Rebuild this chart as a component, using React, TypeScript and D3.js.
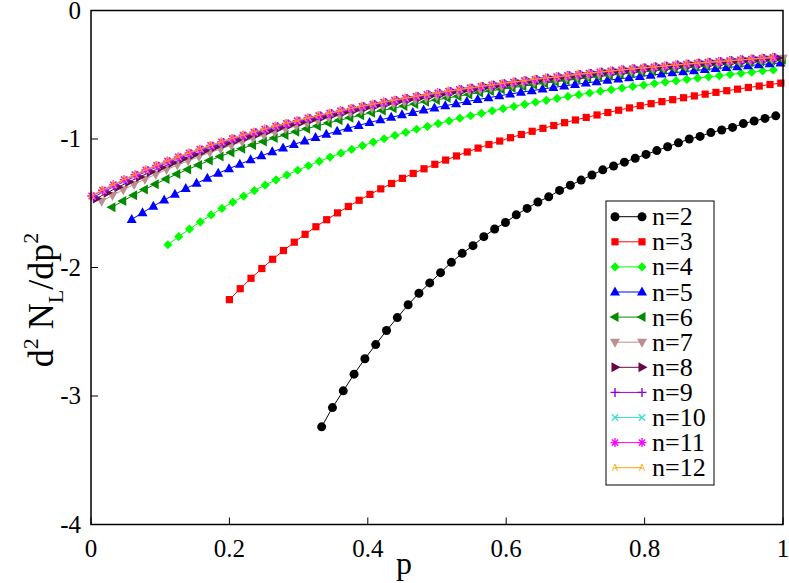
import React from "react";
import * as d3 from "d3";

// d2 N_L / dp2 against p, one curve per n
const labels = ["n=2", "n=3", "n=4", "n=5", "n=6", "n=7", "n=8", "n=9", "n=10", "n=11", "n=12"];
const colors = ["#000000", "#ff0000", "#00ff00", "#0000ff", "#008b00", "#bc8f8f", "#670748", "#9400d3", "#40e0d0", "#ff00ff", "#ffa500"];
const symbols = ["circle", "square", "diamond", "triUp", "triLeft", "triDown", "triRight", "plus", "cross", "star", "char"];

// first p of each curve, and the p spacing between markers
const pStart = [0.3333, 0.2, 0.1111, 0.0588, 0.0303, 0.0154, 0.0078, 0.0039, 0.002, 0.001, 0.0005];
const pStep = 0.015625;

const n2 = [-3.24,-3.09,-2.96,-2.83,-2.71,-2.60,-2.49,-2.39,-2.29,-2.20,-2.12,-2.04,-1.96,-1.89,-1.83,-1.76,-1.70,-1.65,-1.59,-1.54,-1.49,-1.45,-1.40,-1.36,-1.32,-1.28,-1.24,-1.21,-1.18,-1.15,-1.12,-1.09,-1.06,-1.03,-1.00,-0.98,-0.95,-0.93,-0.91,-0.88,-0.86,-0.84,-0.82];
const n3 = [-2.250,-2.165,-2.084,-2.008,-1.936,-1.868,-1.803,-1.742,-1.683,-1.628,-1.575,-1.525,-1.477,-1.431,-1.388,-1.346,-1.306,-1.268,-1.232,-1.197,-1.164,-1.132,-1.101,-1.071,-1.043,-1.016,-0.990,-0.965,-0.940,-0.917,-0.895,-0.873,-0.852,-0.832,-0.813,-0.794,-0.776,-0.758,-0.741,-0.725,-0.709,-0.694,-0.679,-0.665,-0.651,-0.637,-0.624,-0.612,-0.599,-0.588,-0.576,-0.565];
const n4 = [-1.823,-1.760,-1.701,-1.645,-1.591,-1.540,-1.492,-1.445,-1.401,-1.359,-1.318,-1.280,-1.243,-1.208,-1.174,-1.141,-1.110,-1.080,-1.052,-1.024,-0.998,-0.972,-0.948,-0.924,-0.902,-0.880,-0.859,-0.838,-0.819,-0.800,-0.781,-0.764,-0.747,-0.730,-0.714,-0.699,-0.684,-0.669,-0.655,-0.642,-0.628,-0.616,-0.603,-0.591,-0.580,-0.568,-0.557,-0.547,-0.536,-0.526,-0.516,-0.507,-0.497,-0.489,-0.480,-0.471,-0.463];
const n5 = [-1.626,-1.573,-1.523,-1.475,-1.430,-1.386,-1.345,-1.305,-1.267,-1.231,-1.196,-1.162,-1.131,-1.100,-1.070,-1.042,-1.015,-0.989,-0.964,-0.940,-0.916,-0.894,-0.872,-0.851,-0.831,-0.812,-0.793,-0.775,-0.758,-0.741,-0.725,-0.709,-0.693,-0.679,-0.664,-0.650,-0.637,-0.624,-0.611,-0.599,-0.587,-0.576,-0.564,-0.554,-0.543,-0.533,-0.523,-0.513,-0.504,-0.494,-0.485,-0.477,-0.468,-0.460,-0.452,-0.444,-0.437,-0.429,-0.422,-0.415,-0.408];
const n6 = [-1.532,-1.483,-1.437,-1.393,-1.352,-1.312,-1.273,-1.237,-1.202,-1.168,-1.136,-1.105,-1.075,-1.047,-1.020,-0.993,-0.968,-0.944,-0.920,-0.898,-0.876,-0.855,-0.835,-0.815,-0.796,-0.778,-0.761,-0.744,-0.727,-0.711,-0.696,-0.681,-0.667,-0.653,-0.639,-0.626,-0.613,-0.601,-0.589,-0.578,-0.566,-0.555,-0.545,-0.534,-0.524,-0.515,-0.505,-0.496,-0.487,-0.478,-0.470,-0.461,-0.453,-0.446,-0.438,-0.431,-0.423,-0.416,-0.409,-0.403,-0.396,-0.390,-0.383];
const n7 = [-1.485,-1.439,-1.395,-1.354,-1.313,-1.275,-1.238,-1.203,-1.170,-1.137,-1.106,-1.077,-1.048,-1.021,-0.994,-0.969,-0.945,-0.921,-0.899,-0.877,-0.856,-0.836,-0.816,-0.797,-0.779,-0.761,-0.744,-0.728,-0.712,-0.697,-0.682,-0.667,-0.653,-0.640,-0.627,-0.614,-0.602,-0.590,-0.578,-0.567,-0.556,-0.545,-0.535,-0.525,-0.515,-0.506,-0.496,-0.487,-0.479,-0.470,-0.462,-0.454,-0.446,-0.438,-0.431,-0.424,-0.416,-0.410,-0.403,-0.396,-0.390,-0.384,-0.377,-0.371];
const n8 = [-1.463,-1.418,-1.375,-1.334,-1.295,-1.257,-1.221,-1.187,-1.154,-1.122,-1.092,-1.063,-1.035,-1.008,-0.982,-0.957,-0.933,-0.910,-0.888,-0.867,-0.846,-0.826,-0.807,-0.788,-0.770,-0.753,-0.736,-0.720,-0.705,-0.689,-0.675,-0.660,-0.647,-0.633,-0.620,-0.608,-0.596,-0.584,-0.573,-0.561,-0.551,-0.540,-0.530,-0.520,-0.510,-0.501,-0.492,-0.483,-0.474,-0.466,-0.458,-0.450,-0.442,-0.435,-0.427,-0.420,-0.413,-0.406,-0.400,-0.393,-0.387,-0.381,-0.375,-0.369];
const n9 = [-1.452,-1.407,-1.365,-1.324,-1.285,-1.248,-1.213,-1.178,-1.146,-1.115,-1.085,-1.056,-1.028,-1.001,-0.976,-0.951,-0.928,-0.905,-0.883,-0.861,-0.841,-0.821,-0.802,-0.784,-0.766,-0.749,-0.732,-0.716,-0.701,-0.686,-0.671,-0.657,-0.643,-0.630,-0.617,-0.605,-0.593,-0.581,-0.570,-0.559,-0.548,-0.538,-0.527,-0.518,-0.508,-0.499,-0.490,-0.481,-0.472,-0.464,-0.456,-0.448,-0.440,-0.433,-0.425,-0.418,-0.411,-0.405,-0.398,-0.392,-0.385,-0.379,-0.373,-0.367];
const n10 = [-1.446,-1.402,-1.359,-1.319,-1.280,-1.244,-1.208,-1.174,-1.142,-1.111,-1.081,-1.052,-1.025,-0.998,-0.973,-0.948,-0.925,-0.902,-0.880,-0.859,-0.838,-0.819,-0.800,-0.782,-0.764,-0.747,-0.730,-0.714,-0.699,-0.684,-0.669,-0.655,-0.642,-0.629,-0.616,-0.603,-0.591,-0.580,-0.568,-0.557,-0.547,-0.536,-0.526,-0.516,-0.507,-0.498,-0.489,-0.480,-0.471,-0.463,-0.455,-0.447,-0.439,-0.432,-0.425,-0.417,-0.411,-0.404,-0.397,-0.391,-0.384,-0.378,-0.372,-0.366];
const n11 = [-1.443,-1.399,-1.357,-1.316,-1.278,-1.241,-1.206,-1.172,-1.140,-1.109,-1.079,-1.050,-1.023,-0.997,-0.971,-0.947,-0.923,-0.900,-0.879,-0.858,-0.837,-0.818,-0.799,-0.781,-0.763,-0.746,-0.729,-0.713,-0.698,-0.683,-0.668,-0.654,-0.641,-0.628,-0.615,-0.603,-0.591,-0.579,-0.568,-0.557,-0.546,-0.536,-0.526,-0.516,-0.506,-0.497,-0.488,-0.479,-0.471,-0.462,-0.454,-0.447,-0.439,-0.431,-0.424,-0.417,-0.410,-0.403,-0.397,-0.390,-0.384,-0.378,-0.372,-0.366];
const n12 = [-1.441,-1.397,-1.355,-1.315,-1.277,-1.240,-1.205,-1.171,-1.139,-1.108,-1.078,-1.050,-1.022,-0.996,-0.970,-0.946,-0.922,-0.900,-0.878,-0.857,-0.837,-0.817,-0.798,-0.780,-0.762,-0.745,-0.729,-0.713,-0.697,-0.683,-0.668,-0.654,-0.640,-0.627,-0.615,-0.602,-0.590,-0.579,-0.567,-0.556,-0.546,-0.535,-0.525,-0.516,-0.506,-0.497,-0.488,-0.479,-0.471,-0.462,-0.454,-0.446,-0.439,-0.431,-0.424,-0.417,-0.410,-0.403,-0.397,-0.390,-0.384,-0.378,-0.372,-0.366];

const values = [n2, n3, n4, n5, n6, n7, n8, n9, n10, n11, n12];

const xTicks = [0, 0.2, 0.4, 0.6, 0.8, 1];
const xTickLabels = ["0", "0.2", "0.4", "0.6", "0.8", "1"];
const yTicks = [0, -1, -2, -3, -4];
const yTickLabels = ["0", "-1", "-2", "-3", "-4"];

const FONT = '"Liberation Serif", "Times New Roman", Times, "DejaVu Serif", serif';

const tri = "M0,-5.5L5,3.5L-5,3.5Z";

function Marker({ kind, color, cx, cy }: { kind: string; color: string; cx: number; cy: number }) {
  const t = `translate(${cx},${cy})`;
  switch (kind) {
    case "circle":
      return <circle cx={cx} cy={cy} r={4.5} fill={color} />;
    case "square":
      return <rect x={cx - 3.6} y={cy - 3.6} width={7.2} height={7.2} fill={color} />;
    case "diamond":
      return <path transform={t} d="M0,-4.6L4.6,0L0,4.6L-4.6,0Z" fill={color} />;
    case "triUp":
      return <path transform={t} d={tri} fill={color} />;
    case "triLeft":
      return <path transform={`${t} rotate(-90)`} d={tri} fill={color} />;
    case "triDown":
      return <path transform={`${t} rotate(180)`} d={tri} fill={color} />;
    case "triRight":
      return <path transform={`${t} rotate(90)`} d={tri} fill={color} />;
    case "plus":
      return <path transform={t} d="M-4.5,0H4.5M0,-4.5V4.5" stroke={color} strokeWidth={1.4} fill="none" />;
    case "cross":
      return <path transform={t} d="M-3.2,-3.2L3.2,3.2M-3.2,3.2L3.2,-3.2" stroke={color} strokeWidth={1.4} fill="none" />;
    case "star":
      return (
        <path
          transform={t}
          d="M-4.5,0H4.5M0,-4.5V4.5M-3.2,-3.2L3.2,3.2M-3.2,3.2L3.2,-3.2"
          stroke={color}
          strokeWidth={1.4}
          fill="none"
        />
      );
    default:
      return (
        <text x={cx} y={cy + 3} fontSize={9} fill={color} textAnchor="middle" style={{ fontFamily: "DejaVu Sans, sans-serif" }}>
          A
        </text>
      );
  }
}

export default function App() {
  const width = 789;
  const height = 583;

  const x = d3.scaleLinear().domain([0, 1]).range([91, 783]);
  const y = d3.scaleLinear().domain([-4, 0]).range([524.5, 10.5]);

  const series = values.map((vals, s) =>
    vals.map((v, i) => [pStart[s] + i * pStep, v] as [number, number])
  );

  const line = d3
    .line<[number, number]>()
    .x((d) => x(d[0]))
    .y((d) => y(d[1]));

  const legendX = 606;
  const legendY = 201;
  const rowY = (i: number) => 216.7 + i * 25.1;
  const txt = { fontFamily: FONT };

  return (
    <svg
      width={width}
      height={height}
      style={{ position: "absolute", left: 0, top: 0, background: "#fff", fontFamily: FONT }}
    >
      <rect x={0} y={0} width={width} height={height} fill="#fff" />

      {/* curves */}
      {series.map((pts, s) => (
        <g key={labels[s]}>
          <path d={line(pts) ?? ""} fill="none" stroke={colors[s]} strokeWidth={1} />
          {pts.map((d, i) => (
            <Marker key={i} kind={symbols[s]} color={colors[s]} cx={x(d[0])} cy={y(d[1])} />
          ))}
        </g>
      ))}

      {/* frame */}
      <rect x={x(0)} y={y(0)} width={x(1) - x(0)} height={y(-4) - y(0)} fill="none" stroke="#000" strokeWidth={1.5} />

      {/* x axis ticks */}
      {xTicks.map((t, i) => (
        <g key={`xt${i}`}>
          <line x1={x(t)} x2={x(t)} y1={y(-4)} y2={y(-4) - 7} stroke="#000" strokeWidth={1} />
          <text x={x(t)} y={557} fontSize={25} textAnchor="middle" style={txt}>
            {xTickLabels[i]}
          </text>
        </g>
      ))}

      {/* y axis ticks */}
      {yTicks.map((t, i) => (
        <g key={`yt${i}`}>
          <line x1={x(0)} x2={x(0) + 7} y1={y(t)} y2={y(t)} stroke="#000" strokeWidth={1} />
          <text x={81} y={y(t) + 8} fontSize={25} textAnchor="end" style={txt}>
            {yTickLabels[i]}
          </text>
        </g>
      ))}

      {/* axis titles */}
      <text x={404} y={574} fontSize={32} textAnchor="middle" style={txt}>
        p
      </text>
      <text transform="translate(53,300) rotate(-90)" fontSize={36} textAnchor="middle" style={txt}>
        d
        <tspan dy={-15} fontSize={22}>2</tspan>
        <tspan dy={15}> N</tspan>
        <tspan dy={10} fontSize={22}>L</tspan>
        <tspan dy={-10}>/dp</tspan>
        <tspan dy={-15} fontSize={22}>2</tspan>
      </text>

      {/* legend */}
      <rect x={legendX} y={legendY} width={108} height={284} fill="#fff" stroke="#000" strokeWidth={1} />
      {labels.map((lab, i) => (
        <g key={`lg${i}`}>
          <line x1={615} x2={642} y1={rowY(i)} y2={rowY(i)} stroke={colors[i]} strokeWidth={1} />
          <Marker kind={symbols[i]} color={colors[i]} cx={615} cy={rowY(i)} />
          <Marker kind={symbols[i]} color={colors[i]} cx={642} cy={rowY(i)} />
          <text x={652} y={rowY(i) + 8.5} fontSize={26} style={txt}>
            {lab}
          </text>
        </g>
      ))}
    </svg>
  );
}
